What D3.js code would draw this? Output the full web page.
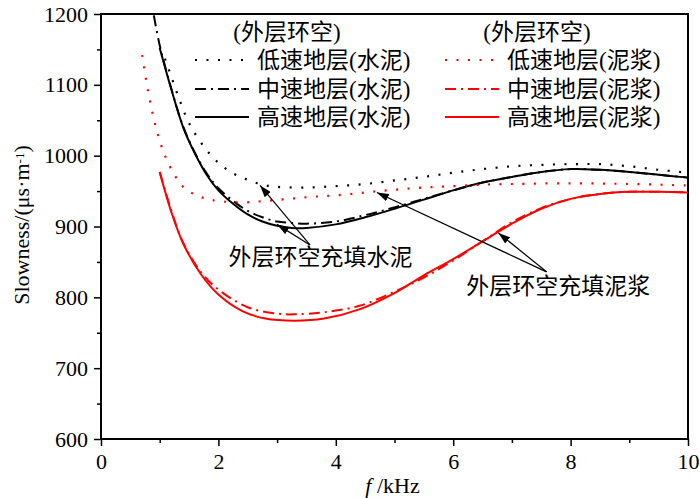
<!DOCTYPE html>
<html>
<head>
<meta charset="utf-8">
<script src="https://cdn.jsdelivr.net/npm/d3@7"></script>
<style>
  body { margin: 0; background: #fff; }
  text { font-family: "Liberation Serif", "Noto Sans CJK SC", serif; fill: #000; }
</style>
</head>
<body>
<div id="chart"></div>
<script>
// fréquences (kHz) et lenteurs (µs/m)
const fLowCement  = [1.09, 1.2, 1.35, 1.5, 1.75, 2.0, 2.25, 2.5, 2.75, 3.0, 3.5, 4.0, 4.5, 5.0, 5.5, 6.0, 6.5, 7.0, 7.5, 8.0, 8.5, 9.0, 9.5, 10];
const sLowCement  = [1137, 1111, 1076, 1046, 1013, 990, 975, 966, 959, 956, 955, 957, 960, 965, 970, 976, 981, 985, 987, 988, 988, 985, 980, 976];

const fMidCement  = [0.9, 1.0, 1.2, 1.4, 1.6, 1.8, 2.0, 2.25, 2.5, 2.75, 3.0, 3.25, 3.5, 4.0, 4.5, 5.0, 5.5, 6.0, 6.5, 7.0, 7.5, 8.0, 8.5, 9.0, 9.5, 10];
const sMidCement  = [1198, 1156, 1094, 1041, 1004, 975, 954, 936, 922, 913, 907, 905, 904, 907, 916, 927, 939, 951, 962, 970, 977, 981, 980, 977, 973, 969];

const fHighCement = [1.0, 1.2, 1.4, 1.6, 1.8, 2.0, 2.25, 2.5, 2.75, 3.0, 3.25, 3.5, 4.0, 4.5, 5.0, 5.5, 6.0, 6.5, 7.0, 7.5, 8.0, 8.5, 9.0, 9.5, 10];
const sHighCement = [1152, 1093, 1040, 1003, 973, 951, 932, 917, 907, 901, 898, 898, 903, 913, 925, 938, 951, 962, 970, 977, 981, 980, 977, 973, 969];

const fLowMud     = [0.7, 0.8, 0.9, 1.0, 1.1, 1.25, 1.4, 1.6, 1.8, 2.0, 2.4, 2.8, 3.2, 3.6, 4.0, 4.5, 5.0, 5.5, 6.0, 6.5, 7.0, 8.0, 9.0, 10];
const sLowMud     = [1142, 1092, 1052, 1021, 998, 973, 956, 945, 939, 936, 934, 936, 939, 942, 944, 948, 952, 955, 957, 959, 960, 961, 960, 958];

const fMidMud     = [1.0, 1.2, 1.4, 1.7, 2.0, 2.5, 3.0, 3.3, 3.8, 4.4, 5.0, 5.5, 6.0, 6.5, 7.0, 7.5, 8.0, 8.5, 9.0, 9.5, 10];
const sMidMud     = [977, 922, 877, 836, 811, 786, 777, 776, 779, 788, 808, 828, 852, 879, 906, 926, 939, 946, 949, 949, 948];

const fHighMud    = [1.0, 1.2, 1.4, 1.7, 2.0, 2.4, 2.8, 3.3, 3.8, 4.4, 5.0, 5.5, 6.0, 6.5, 7.0, 7.5, 8.0, 8.5, 9.0, 9.5, 10];
const sHighMud    = [977, 920, 876, 833, 804, 781, 770, 767, 770, 783, 806, 831, 854, 879, 904, 925, 939, 946, 949, 949, 948];

const xTicks = [0, 2, 4, 6, 8, 10];
const yTicks = [600, 700, 800, 900, 1000, 1100, 1200];

const seriesNames = ["低速地层(水泥)", "中速地层(水泥)", "高速地层(水泥)", "低速地层(泥浆)", "中速地层(泥浆)", "高速地层(泥浆)"];
const legendTitle = "(外层环空)";
const labelCement = "外层环空充填水泥";
const labelMud = "外层环空充填泥浆";

// dimensions
const W = 700, H = 498;
const margin = {top: 14, right: 12, bottom: 59, left: 101};
const serif = '"Liberation Serif", "Times New Roman", serif';

const svg = d3.select('#chart')
    .append('svg')
    .attr('width', W)
    .attr('height', H);

const x = d3.scaleLinear().domain([0, 10]).range([margin.left, W - margin.right]);
const y = d3.scaleLinear().domain([600, 1200]).range([H - margin.bottom, margin.top]);

const dashes = {dot: "2,9.5", dashdot: "11,5,2,5", solid: null};

const series = [
    {f: fLowCement,  s: sLowCement,  color: "#000", dash: "dot"},
    {f: fMidCement,  s: sMidCement,  color: "#000", dash: "dashdot"},
    {f: fHighCement, s: sHighCement, color: "#000", dash: "solid"},
    {f: fLowMud,     s: sLowMud,     color: "#ff0000", dash: "dot"},
    {f: fMidMud,     s: sMidMud,     color: "#ff0000", dash: "dashdot"},
    {f: fHighMud,    s: sHighMud,    color: "#ff0000", dash: "solid"}
].map((d, i) => ({...d, name: seriesNames[i], pts: d.f.map((v, j) => [v, d.s[j]])}));

// axes
const xAxis = svg.append('g')
    .attr('transform', 'translate(0,' + y(600) + ')')
    .call(d3.axisBottom(x).tickValues(xTicks).tickSize(7).tickPadding(6).tickFormat(d3.format('d')));
svg.append('g')
    .attr('transform', 'translate(0,' + y(600) + ')')
    .call(d3.axisBottom(x).tickValues([1, 3, 5, 7, 9]).tickSize(4).tickFormat(''));

const yAxis = svg.append('g')
    .attr('transform', 'translate(' + x(0) + ',0)')
    .call(d3.axisLeft(y).tickValues(yTicks).tickSize(7).tickPadding(6).tickFormat(d3.format('d')));
svg.append('g')
    .attr('transform', 'translate(' + x(0) + ',0)')
    .call(d3.axisLeft(y).tickValues([650, 750, 850, 950, 1050, 1150]).tickSize(4).tickFormat(''));

svg.selectAll('.domain').remove();
svg.selectAll('.tick line').attr('stroke', '#000').attr('stroke-width', 1.5);
[xAxis, yAxis].forEach(a => a.attr('font-family', serif).attr('font-size', 22));
svg.selectAll('.tick text')
    .attr('fill', '#000')
    .style('font-family', serif)
    .style('font-size', '22px');
xAxis.selectAll('.tick text').attr('dy', '0.75em');

// cadre
svg.append('rect')
    .attr('x', x(0)).attr('y', y(1200))
    .attr('width', x(10) - x(0)).attr('height', y(600) - y(1200))
    .attr('fill', 'none').attr('stroke', '#000').attr('stroke-width', 2);

// titres des axes
const xt = svg.append('text')
    .attr('x', (x(0) + x(10)) / 2 - 2).attr('y', 493)
    .attr('text-anchor', 'middle')
    .style('font-family', serif)
    .style('font-size', '22px');
xt.append('tspan').style('font-style', 'italic').text('f');
xt.append('tspan').text(' /kHz');

const yt = svg.append('text')
    .attr('transform', 'translate(29,225) rotate(-90)')
    .attr('text-anchor', 'middle')
    .style('font-family', serif)
    .style('font-size', '22px');
yt.append('tspan').text('Slowness/(μs·m');
yt.append('tspan').attr('baseline-shift', '40%').style('font-size', '13px').text('-1');
yt.append('tspan').text(')');

// courbes
const line = d3.line()
    .x(d => x(d[0]))
    .y(d => y(d[1]))
    .curve(d3.curveCatmullRom.alpha(0.5));

const plot = svg.append('g');
plot.selectAll('path.curve')
    .data(series)
    .join('path')
    .attr('class', 'curve')
    .attr('d', d => line(d.pts))
    .attr('fill', 'none')
    .attr('stroke', d => d.color)
    .attr('stroke-width', d => d.dash === 'dot' ? 2.2 : 2)
    .attr('stroke-dasharray', d => dashes[d.dash]);

// flèches d'annotation
const defs = svg.append('defs');
defs.append('marker')
    .attr('id', 'arrow')
    .attr('viewBox', '0 0 12 8')
    .attr('refX', 12).attr('refY', 4)
    .attr('markerWidth', 12).attr('markerHeight', 8)
    .attr('markerUnits', 'userSpaceOnUse')
    .attr('orient', 'auto')
    .append('path')
    .attr('d', 'M0,0 L12,4 L0,8 Z')
    .attr('fill', '#000');

const arrows = [
    {from: [3.56, 874], to: [2.71, 958]},
    {from: [3.56, 874], to: [3.0, 903]},
    {from: [7.59, 836], to: [4.70, 948]},
    {from: [7.59, 836], to: [6.77, 891]}
];
svg.selectAll('line.arrow')
    .data(arrows)
    .join('line')
    .attr('class', 'arrow')
    .attr('x1', d => x(d.from[0])).attr('y1', d => y(d.from[1]))
    .attr('x2', d => x(d.to[0])).attr('y2', d => y(d.to[1]))
    .attr('stroke', '#000').attr('stroke-width', 1.2)
    .attr('marker-end', 'url(#arrow)');

svg.append('text')
    .attr('x', x(3.74)).attr('y', y(857)).attr('dy', '0.36em')
    .attr('text-anchor', 'middle')
    .style('font-size', '23px')
    .text(labelCement);
svg.append('text')
    .attr('x', x(7.79)).attr('y', y(817)).attr('dy', '0.36em')
    .attr('text-anchor', 'middle')
    .style('font-size', '23px')
    .text(labelMud);

// légende
const legendCols = [{x: 195, title: 287}, {x: 445, title: 537}];
const rowY = [60, 89, 117];

legendCols.forEach(c => {
    svg.append('text')
        .attr('x', c.title).attr('y', 32).attr('dy', '0.36em')
        .attr('text-anchor', 'middle')
        .style('font-size', '23px')
        .text(legendTitle);
});

const leg = svg.append('g').selectAll('g')
    .data(series)
    .join('g')
    .attr('transform', (d, i) => 'translate(' + legendCols[Math.floor(i / 3)].x + ',' + rowY[i % 3] + ')');

leg.append('line')
    .attr('x1', 0).attr('x2', 54)
    .attr('stroke', d => d.color)
    .attr('stroke-width', d => d.dash === 'dot' ? 2.2 : 2)
    .attr('stroke-dasharray', d => dashes[d.dash]);

leg.append('text')
    .attr('x', 62).attr('dy', '0.36em')
    .style('font-size', '23px')
    .text(d => d.name);
</script>
</body>
</html>
